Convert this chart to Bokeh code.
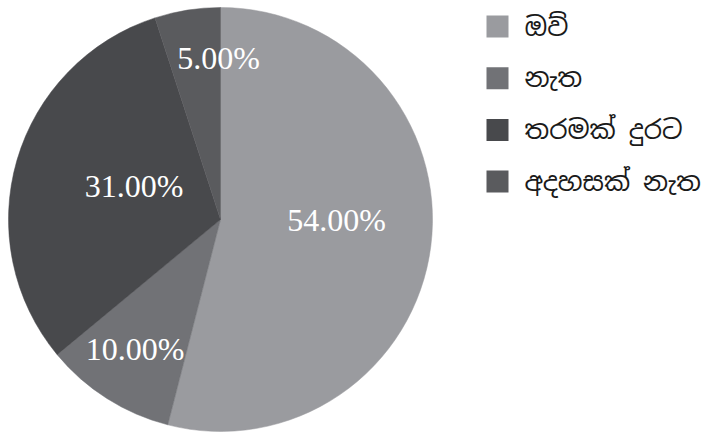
import math
from bokeh.plotting import figure
from bokeh.models import Range1d, ColumnDataSource
from bokeh.core.properties import value
from bokeh.embed import file_html
from bokeh.resources import INLINE

# ---- data ----
categories = ["ඔව්", "නැත", "තරමක් දුරට", "අදහසක් නැත"]
shares = [54.0, 10.0, 31.0, 5.0]
colors = ["#9a9b9f", "#717276", "#48494c", "#5a5b5e"]

# ---- layout (pixels) ----
W, H = 714, 436
cx, cy, R = 220, 217, 212
label_frac = [0.547, 0.731, 0.437, 0.764]
label_nudge = [(1, 14.5), (-2.4, 1.3), (2.5, 7.6), (23.3, 2)]
leg_x, leg_top, leg_pitch, leg_text_gap = 497, 26, 51.7, 27

p = figure(width=W, height=H, output_backend="svg", toolbar_location=None,
           x_range=Range1d(0, W), y_range=Range1d(0, H), min_border=0)
p.axis.visible = False
p.grid.visible = False
p.outline_line_color = None
p.background_fill_color = "white"

total = sum(shares)
starts, ends, mids = [], [], []
acc = 0.0
for s in shares:
    a0 = math.pi / 2 - 2 * math.pi * acc / total
    acc += s
    a1 = math.pi / 2 - 2 * math.pi * acc / total
    starts.append(a0)
    ends.append(a1)
    mids.append((a0 + a1) / 2)

wsrc = ColumnDataSource(dict(start=starts, end=ends, color=colors))
p.wedge(x=cx, y=cy, radius=R, start_angle="start", end_angle="end",
        direction="clock", fill_color="color", line_color="color",
        line_width=0.5, source=wsrc)

lx = [cx + R * f * math.cos(m) + n[0] for f, m, n in zip(label_frac, mids, label_nudge)]
ly = [cy + R * f * math.sin(m) + n[1] for f, m, n in zip(label_frac, mids, label_nudge)]
src = ColumnDataSource(dict(x=lx, y=ly, t=["%.2f%%" % s for s in shares]))
p.text(x="x", y="y", text="t", source=src, text_color="white",
       text_font=value("Liberation Serif"), text_font_size="32px",
       text_align="center", text_baseline="middle")

# legend (drawn from the category list)
ys = [H - (leg_top + i * leg_pitch) for i in range(len(categories))]
lsrc = ColumnDataSource(dict(x=[leg_x] * len(categories), tx=[leg_x + leg_text_gap] * len(categories),
                             y=ys, label=categories, color=colors))
p.scatter(x="x", y="y", source=lsrc, marker="square", size=22,
          fill_color="color", line_color=None)
p.text(x="tx", y="y", text="label", source=lsrc, text_color="#1a1a1a",
       text_font=value("Noto Sans Sinhala"), text_font_size="26px",
       text_align="left", text_baseline="middle")

open("out.html", "w").write(file_html(p, INLINE))
